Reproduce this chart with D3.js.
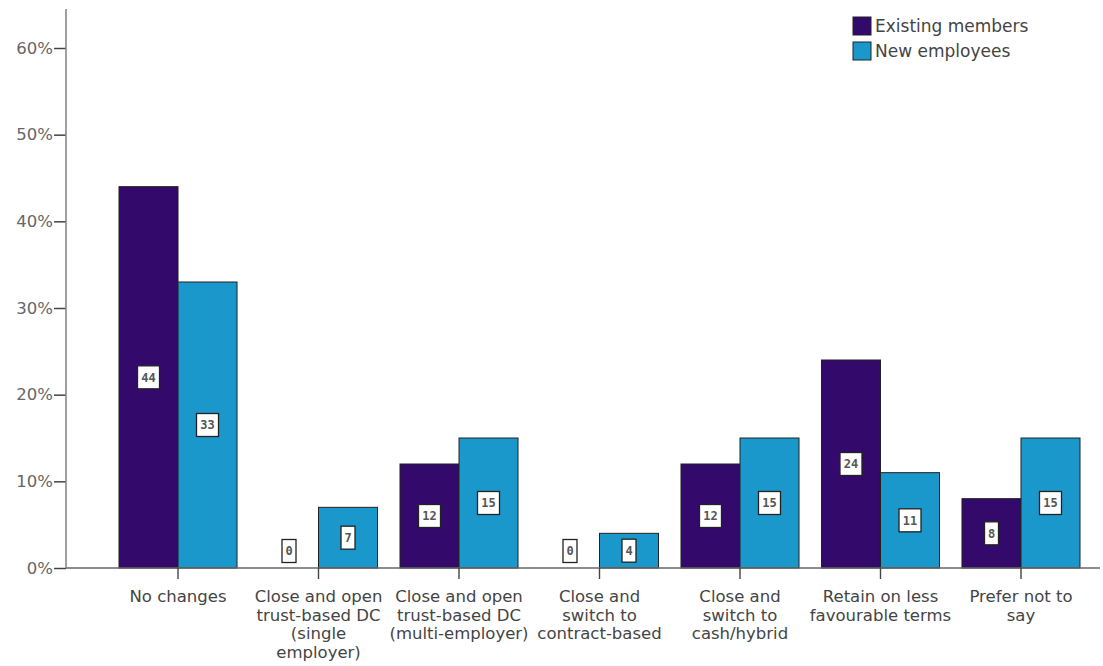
<!DOCTYPE html>
<html><head><meta charset="utf-8">
<script src="https://cdn.jsdelivr.net/npm/d3@7"></script>
<style>body{margin:0;background:#fff}svg{display:block}</style>
</head><body>
<script>
const categories = [
  ["No changes"],
  ["Close and open","trust-based DC","(single","employer)"],
  ["Close and open","trust-based DC","(multi-employer)"],
  ["Close and","switch to","contract-based"],
  ["Close and","switch to","cash/hybrid"],
  ["Retain on less","favourable terms"],
  ["Prefer not to","say"]
];
const seriesNames = ["Existing members","New employees"];
const existing = [44, 0, 12, 0, 12, 24, 8];
const newEmp = [33, 7, 15, 4, 15, 11, 15];
const yTicks = [0,10,20,30,40,50,60];
const colors = ["#330a6b","#1a98cb"];

const W=1103,H=666;
const svg=d3.select("body").append("svg").attr("width",W).attr("height",H);
const x0=66, y0=568;
const y=d3.scaleLinear().domain([0,60]).range([y0,48]);
const x=d3.scaleBand().domain(d3.range(categories.length)).range([119,1080]).paddingInner(0.16).paddingOuter(0);
const xs=d3.scaleBand().domain([0,1]).range([0,x.bandwidth()]);
const font="'DejaVu Sans', sans-serif";

// y axis
const ya=svg.append("g").attr("transform",`translate(${x0},0)`)
  .call(d3.axisLeft(y).tickValues(yTicks).tickFormat(d=>d+"%").tickSize(12).tickSizeOuter(0));
ya.select(".domain").remove();
ya.selectAll(".tick line").attr("stroke","#444").attr("stroke-width",1.5);
ya.selectAll(".tick text").attr("font-family",font).attr("font-size",16.5).attr("fill","#666").attr("x",-13);
svg.append("line").attr("x1",x0).attr("x2",x0).attr("y1",9).attr("y2",y0).attr("stroke","#888").attr("stroke-width",1.6);

// bars
const data=categories.map((c,i)=>({i,vals:[existing[i],newEmp[i]]}));
const g=svg.selectAll(".cat").data(data).enter().append("g").attr("transform",d=>`translate(${x(d.i)},0)`);
g.selectAll("rect").data(d=>d.vals.map((v,k)=>({v,k}))).enter().append("rect")
  .attr("x",d=>xs(d.k)).attr("width",xs.bandwidth())
  .attr("y",d=>y(d.v)).attr("height",d=>y0-y(d.v))
  .attr("fill",d=>colors[d.k]).attr("stroke","#222").attr("stroke-width",d=>d.v>0?1:0);

// x axis line
svg.append("line").attr("x1",x0).attr("x2",1100).attr("y1",y0).attr("y2",y0).attr("stroke","#666").attr("stroke-width",1.4);
// ticks
svg.selectAll(".xt").data(data).enter().append("line")
  .attr("x1",d=>x(d.i)+x.bandwidth()/2).attr("x2",d=>x(d.i)+x.bandwidth()/2)
  .attr("y1",y0).attr("y2",y0+11).attr("stroke","#444").attr("stroke-width",1.4);

// value labels
const lab=g.selectAll(".lab").data(d=>d.vals.map((v,k)=>({v,k}))).enter().append("g")
  .attr("transform",d=>{
    const cx=xs(d.k)+xs.bandwidth()/2;
    const cy=d.v>0?(y(d.v)+y0)/2:y0-17;
    return `translate(${cx},${cy})`;});
lab.append("rect").attr("x",d=>String(d.v).length>1?-11:-7).attr("width",d=>String(d.v).length>1?22:14)
  .attr("y",-11.5).attr("height",23).attr("fill","#fff").attr("stroke","#222").attr("stroke-width",1.3);
lab.append("text").attr("text-anchor","middle").attr("dy","0.36em").attr("font-family","'DejaVu Sans Mono', monospace")
  .attr("font-size",12).attr("font-weight","bold").attr("fill","#555").text(d=>d.v);

// category labels
const cl=svg.selectAll(".cl").data(categories).enter().append("text")
  .attr("font-family",font).attr("font-size",16.5).attr("fill","#444").attr("text-anchor","middle")
  .attr("transform",(d,i)=>`translate(${x(i)+x.bandwidth()/2},${y0+34})`);
cl.selectAll("tspan").data(d=>d).enter().append("tspan").attr("x",0).attr("dy",(d,j)=>j?18.5:0).text(d=>d);

// legend
const lg=svg.append("g").attr("transform","translate(853,17)");
seriesNames.forEach((n,k)=>{
  lg.append("rect").attr("x",0).attr("y",k*25).attr("width",18).attr("height",18).attr("fill",colors[k]).attr("stroke","#222").attr("stroke-width",1);
  lg.append("text").attr("x",22).attr("y",k*25+15).attr("font-family",font).attr("font-size",17).attr("fill","#444").text(n);
});
</script>
</body></html>
